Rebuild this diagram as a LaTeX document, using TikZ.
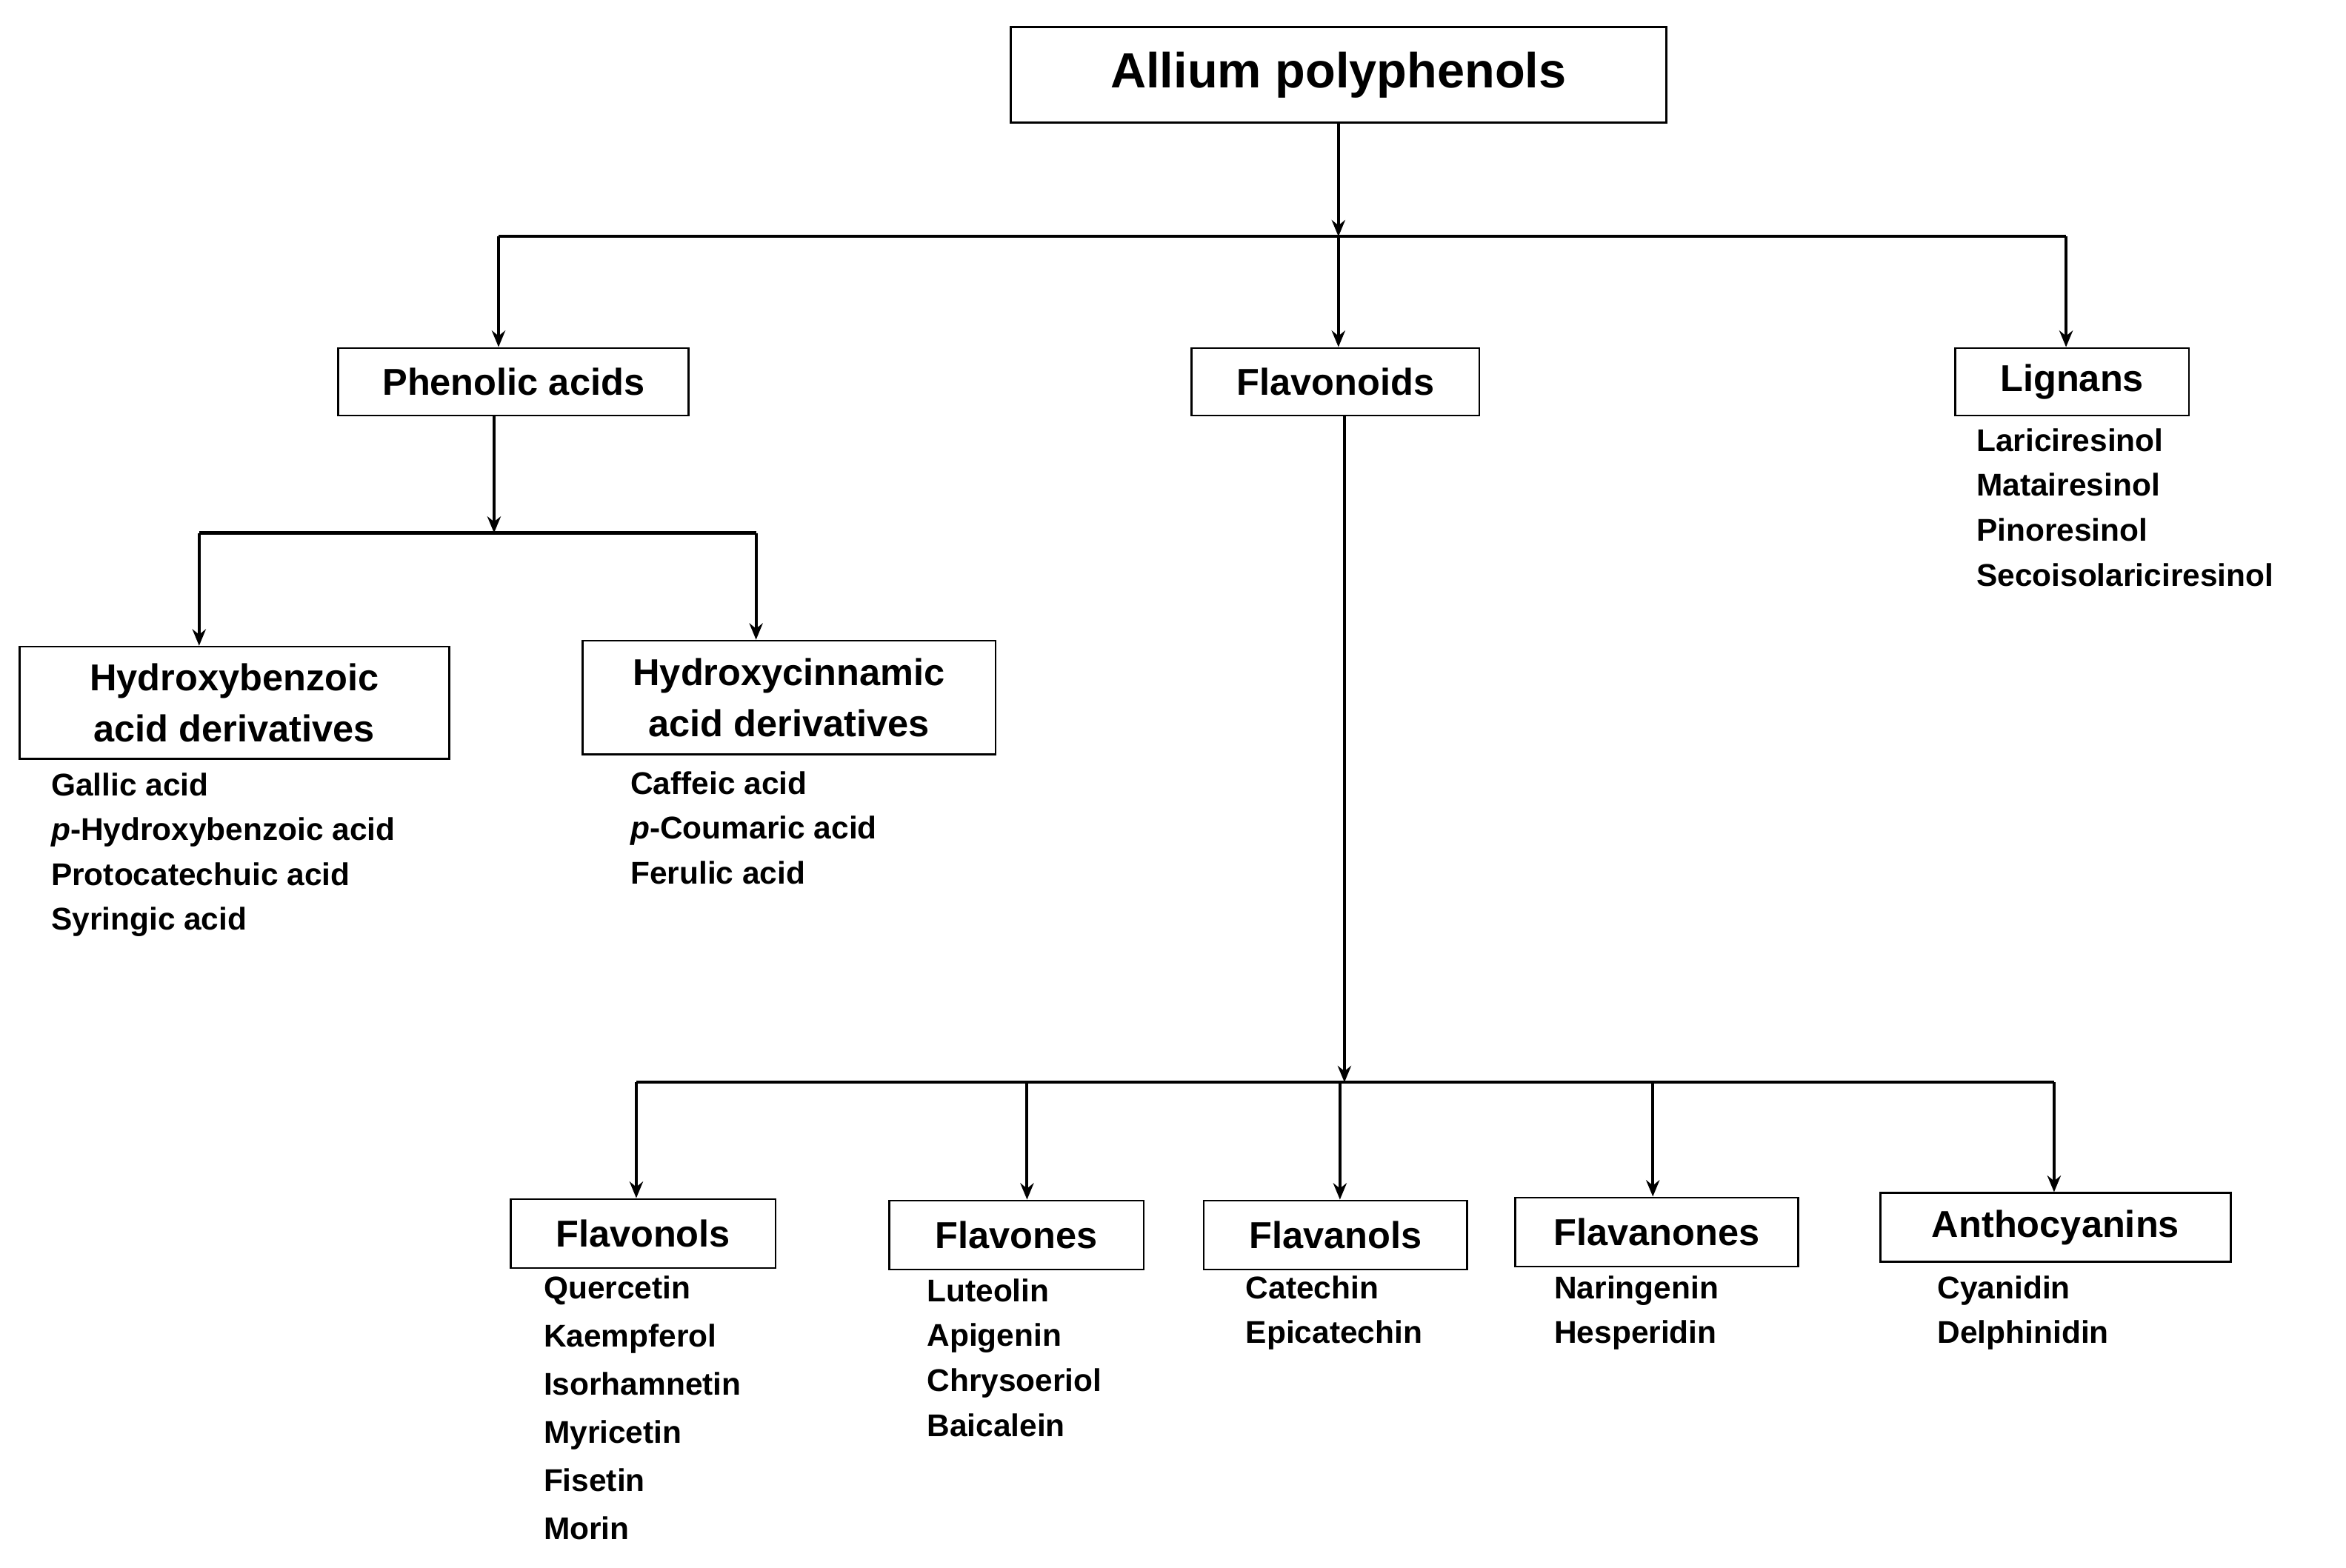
\documentclass[tikz,border=0pt]{standalone}
\usepackage{fontspec}
\setmainfont{Liberation Sans}
\usetikzlibrary{arrows.meta}
\begin{document}
\begin{tikzpicture}[x=1pt,y=-1pt,
  box/.style={draw,line width=1.3pt,inner sep=0pt,font=\bfseries\fontsize{25}{30}\selectfont,align=center},
  lst/.style={anchor=north west,inner sep=0pt,align=left,font=\bfseries\fontsize{21}{30}\selectfont},
  ln/.style={line width=2pt},
  arr/.style={line width=2pt,-{Stealth[length=11pt,width=9pt]}}]
\useasboundingbox (0,0) rectangle (1567,1047);
\fill[white] (0,0) rectangle (1567,1047);
\node[box,minimum width=438,minimum height=64,font=\bfseries\fontsize{33}{38}\selectfont] (top) at (894,50) {Allium polyphenols};
\node[box,minimum width=234,minimum height=45] (pa) at (343,255) {Phenolic acids};
\node[box,minimum width=192,minimum height=45] (fl) at (892,255) {Flavonoids};
\node[box,minimum width=156,minimum height=45] (lg) at (1384,255) {Lignans};
\node[box,minimum width=287,minimum height=75,font=\bfseries\fontsize{25}{34}\selectfont] (hb) at (156.5,469.5) {Hydroxybenzoic\\acid derivatives};
\node[box,minimum width=276,minimum height=76,font=\bfseries\fontsize{25}{34}\selectfont] (hc) at (527,466) {Hydroxycinnamic\\acid derivatives};
\node[box,minimum width=177,minimum height=46] (fo) at (429.5,824) {Flavonols};
\node[box,minimum width=170,minimum height=46] (fe) at (679,825) {Flavones};
\node[box,minimum width=176,minimum height=46] (fa) at (892,825) {Flavanols};
\node[box,minimum width=189,minimum height=46] (fn) at (1106.5,823) {Flavanones};
\node[box,minimum width=234,minimum height=46] (an) at (1373,820) {Anthocyanins};
% lists
\node[lst] (llg) at (1320,286) {Lariciresinol\\Matairesinol\\Pinoresinol\\Secoisolariciresinol};
\node[lst] (lhb) at (34,516) {Gallic acid\\\textit{p}-Hydroxybenzoic acid\\Protocatechuic acid\\Syringic acid};
\node[lst] (lhc) at (421,515) {Caffeic acid\\\textit{p}-Coumaric acid\\Ferulic acid};
\node[lst,font=\bfseries\fontsize{21}{32.2}\selectfont] (lfo) at (363,852) {Quercetin\\Kaempferol\\Isorhamnetin\\Myricetin\\Fisetin\\Morin};
\node[lst] (lfe) at (619,854) {Luteolin\\Apigenin\\Chrysoeriol\\Baicalein};
\node[lst] (lfa) at (832,852) {Catechin\\Epicatechin};
\node[lst] (lfn) at (1038,852) {Naringenin\\Hesperidin};
\node[lst] (lan) at (1294,852) {Cyanidin\\Delphinidin};
% connectors
\coordinate (j1) at (894,158);
\coordinate (j1l) at (333,158);
\coordinate (j1r) at (1380,158);
\draw[arr] (top.south) -- (j1);
\draw[ln] (j1l) -- (j1r);
\draw[arr] (j1l) -- (j1l|-pa.north);
\draw[arr] (j1) -- (j1|-fl.north);
\draw[arr] (j1r) -- (j1r|-lg.north);
\coordinate (j2) at (330,356);
\coordinate (j2l) at (133,356);
\coordinate (j2r) at (505,356);
\draw[arr] (330,278) -- (j2);
\draw[ln] (j2l) -- (j2r);
\draw[arr] (j2l) -- (j2l|-hb.north);
\draw[arr] (j2r) -- (j2r|-hc.north);
\coordinate (j3) at (898,723);
\coordinate (j3a) at (425,723);
\coordinate (j3b) at (686,723);
\coordinate (j3c) at (895,723);
\coordinate (j3d) at (1104,723);
\coordinate (j3e) at (1372,723);
\draw[arr] (898,278) -- (j3);
\draw[ln] (j3a) -- (j3e);
\draw[arr] (j3a) -- (j3a|-fo.north);
\draw[arr] (j3b) -- (j3b|-fe.north);
\draw[arr] (j3c) -- (j3c|-fa.north);
\draw[arr] (j3d) -- (j3d|-fn.north);
\draw[arr] (j3e) -- (j3e|-an.north);
\end{tikzpicture}
\end{document}
